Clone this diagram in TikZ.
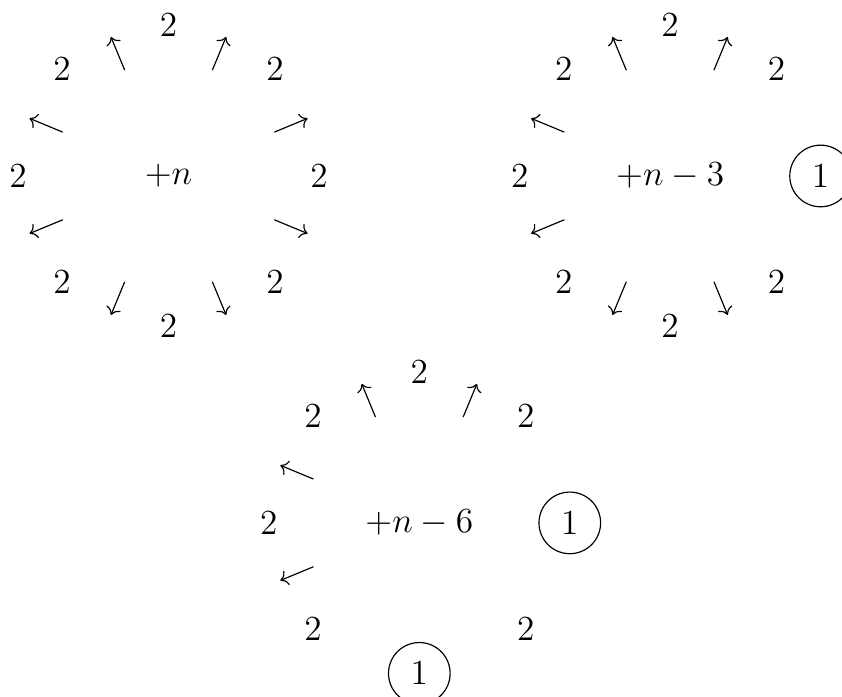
\documentclass[tikz,border=0pt,12pt]{standalone}
\usepackage{amsmath,amssymb}
\usepackage{tikz}
\usetikzlibrary{arrows.meta,calc,positioning}

\begin{document}
\begin{tikzpicture}[ringed/.style={circle,draw},spoke/.style={->}]
  \useasboundingbox (-2.016,2.105) rectangle (8.056,-6.232);
  % left wheel
  \node (c1) at (0,0) {$+n$};
  \foreach \a [count=\i] in {90,45,0,-45,-90,-135,180,135}{\node (p1\i) at ($(c1)+(\a:1.8)$) {$2$};}
  \foreach \a [count=\i] in {22.5,67.5,112.5,157.5,202.5,247.5,292.5,337.5}{
    \coordinate (s1\i) at ($(c1)+(\a:1.37)$); \coordinate (t1\i) at ($(c1)+(\a:1.8)$);
    \draw[spoke] (s1\i)--(t1\i);}
  % right wheel
  \node (c2) at (6,0) {$+n-3$};
  \foreach \a [count=\i] in {90,45,-45,-90,-135,180,135}{\node (p2\i) at ($(c2)+(\a:1.8)$) {$2$};}
  \node[ringed] (q21) at ($(c2)+(0:1.8)$) {$1$};
  \foreach \a [count=\i] in {67.5,112.5,157.5,202.5,247.5,292.5}{
    \coordinate (s2\i) at ($(c2)+(\a:1.37)$); \coordinate (t2\i) at ($(c2)+(\a:1.8)$);
    \draw[spoke] (s2\i)--(t2\i);}
  % bottom wheel
  \node (c3) at (3,-4.15) {$+n-6$};
  \foreach \a [count=\i] in {90,45,-45,-135,180,135}{\node (p3\i) at ($(c3)+(\a:1.8)$) {$2$};}
  \node[ringed] (q31) at ($(c3)+(0:1.8)$) {$1$};
  \node[ringed] (q32) at ($(c3)+(-90:1.8)$) {$1$};
  \foreach \a [count=\i] in {67.5,112.5,157.5,202.5}{
    \coordinate (s3\i) at ($(c3)+(\a:1.37)$); \coordinate (t3\i) at ($(c3)+(\a:1.8)$);
    \draw[spoke] (s3\i)--(t3\i);}
\end{tikzpicture}
\end{document}
